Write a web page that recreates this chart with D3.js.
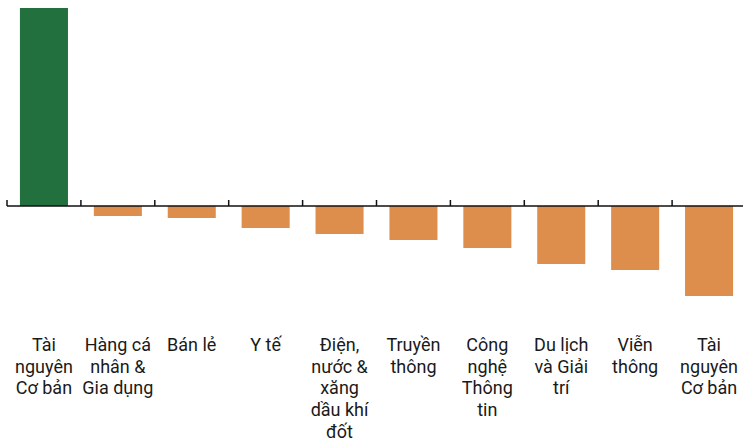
<!DOCTYPE html>
<html>
<head>
<meta charset="utf-8">
<script src="https://cdn.jsdelivr.net/npm/d3@7"></script>
<style>
  body { margin: 0; background: #fff; }
  svg { display: block; font-family: Roboto, "Noto Sans", sans-serif; }
</style>
</head>
<body>
<svg id="chart" width="743" height="439"></svg>
<script>
// sector labels, already split into lines like the original
const sectors = [
  ["Tài", "nguyên", "Cơ bản"],
  ["Hàng cá", "nhân &", "Gia dụng"],
  ["Bán lẻ"],
  ["Y tế"],
  ["Điện,", "nước &", "xăng", "dầu khí", "đốt"],
  ["Truyền", "thông"],
  ["Công", "nghệ", "Thông", "tin"],
  ["Du lịch", "và Giải", "trí"],
  ["Viễn", "thông"],
  ["Tài", "nguyên", "Cơ bản"]
];
const values = [19.8, -1.0, -1.2, -2.2, -2.8, -3.4, -4.2, -5.8, -6.4, -9.0];

const svg = d3.select("#chart");

const x = d3.scaleBand()
  .domain(d3.range(sectors.length))
  .range([7, 746])
  .paddingInner(0.35)
  .paddingOuter(0.175);

const y = d3.scaleLinear()
  .domain([-9, 19.8])
  .range([296, 8]);

// bars
svg.selectAll(".bar")
  .data(values)
  .join("rect")
  .attr("class", "bar")
  .attr("x", (d, i) => x(i))
  .attr("width", x.bandwidth())
  .attr("y", d => y(Math.max(0, d)))
  .attr("height", d => Math.abs(y(d) - y(0)))
  .attr("fill", d => d >= 0 ? "#23703f" : "#dd8d4c");

// baseline with ticks at band boundaries
const base = y(0);
svg.append("line")
  .attr("x1", x.range()[0]).attr("x2", 743)
  .attr("y1", base).attr("y2", base)
  .attr("stroke", "#111").attr("stroke-width", 1.5);

svg.selectAll(".tick")
  .data(d3.range(sectors.length + 1))
  .join("line")
  .attr("class", "tick")
  .attr("x1", i => x.range()[0] + i * x.step())
  .attr("x2", i => x.range()[0] + i * x.step())
  .attr("y1", base).attr("y2", base - 6)
  .attr("stroke", "#111").attr("stroke-width", 1.5);

// category labels
const lab = svg.selectAll(".lab")
  .data(sectors)
  .join("text")
  .attr("class", "lab")
  .attr("text-anchor", "middle")
  .attr("font-size", 18)
  .attr("fill", "#1a1a1a");

lab.each(function (lines, i) {
  const t = d3.select(this);
  lines.forEach((ln, k) => {
    t.append("tspan")
      .attr("x", x(i) + x.bandwidth() / 2)
      .attr("y", 351 + k * 21.7)
      .text(ln);
  });
});
</script>
</body>
</html>
